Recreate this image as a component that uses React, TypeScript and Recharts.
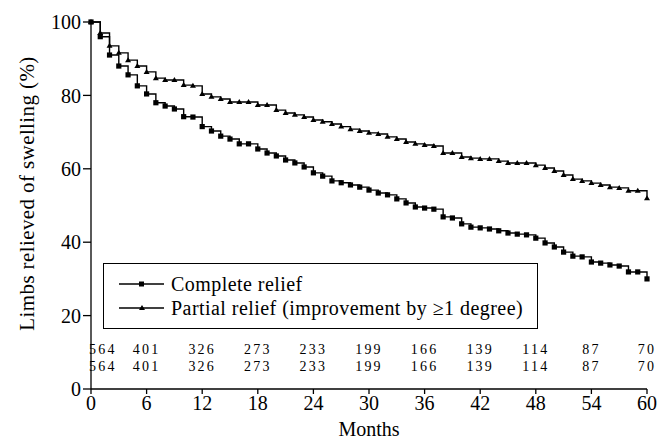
import React from 'react'
import { ComposedChart, Line, Scatter, XAxis, YAxis, Label } from 'recharts'

const months = [
  0, 1, 2, 3, 4, 5, 6, 7, 8, 9, 10, 11, 12, 13, 14, 15, 16, 17, 18, 19, 20,
  21, 22, 23, 24, 25, 26, 27, 28, 29, 30, 31, 32, 33, 34, 35, 36, 37, 38, 39, 40,
  41, 42, 43, 44, 45, 46, 47, 48, 49, 50, 51, 52, 53, 54, 55, 56, 57, 58, 59, 60,
]

const completeRelief = [
  100, 96, 91, 88, 85.6, 82.6, 80.4, 78, 77.1, 76.3, 74.2, 74.1, 71.5, 70.3, 68.9, 68.1,
  66.8, 66.8, 65.4, 64.3, 63.5, 62.4, 61.6, 60.5, 58.9, 58.0, 56.7, 56.2, 55.6, 55.0, 54.2,
  53.4, 52.9, 51.8, 50.7, 49.6, 49.3, 49.0, 46.9, 46.6, 45.0, 44.1, 43.9, 43.6, 43.1, 42.5,
  42.2, 42.0, 41.1, 39.8, 38.7, 37.3, 36.2, 36.0, 34.6, 34.3, 33.8, 33.5, 31.9, 31.9, 30.0,
]

const partialRelief = [
  100, 97, 93.5, 91.6, 89.6, 88, 86.4, 84.7, 84.2, 84.2, 82.8, 82.6, 80.4, 79.6, 79.0, 78.2,
  78.2, 78.2, 77.4, 77.4, 76.0, 75.2, 74.7, 74.1, 73.3, 72.8, 72.2, 71.5, 70.8, 70.3, 69.8,
  69.5, 68.7, 68.1, 67.3, 66.8, 66.5, 66.2, 64.3, 64.3, 63.2, 62.9, 62.7, 62.7, 62.1, 61.6,
  61.6, 61.6, 61.0, 60.2, 59.4, 58.3, 57.2, 56.7, 56.1, 55.6, 55.0, 54.8, 54.0, 54.0, 52.0,
]

const monthTicks = [0, 6, 12, 18, 24, 30, 36, 42, 48, 54, 60]
const percentTicks = [0, 20, 40, 60, 80, 100]

// numbers at risk, printed under the curves
const riskMonths = [0, 6, 12, 18, 24, 30, 36, 42, 48, 54, 60]
const riskComplete = [564, 401, 326, 273, 233, 199, 166, 139, 114, 87, 70]
const riskPartial = [564, 401, 326, 273, 233, 199, 166, 139, 114, 87, 70]
const riskRowLevels = [11.0, 6.4]

const FONT = '"Liberation Serif", "DejaVu Serif", serif'

const data = months.map((m, i) => ({
  month: m,
  complete: completeRelief[i],
  partial: partialRelief[i],
}))

const riskRows = [riskComplete, riskPartial].map((row, r) =>
  riskMonths.map((m, i) => ({ month: m, y: riskRowLevels[r], count: row[i] }))
)

function SquareDot(props: any) {
  const { cx, cy } = props
  if (cx == null || cy == null) return null
  return <rect x={cx - 2.6} y={cy - 2.6} width={5.2} height={5.2} fill="#000" />
}

function TriangleDot(props: any) {
  const { cx, cy } = props
  if (cx == null || cy == null) return null
  return <polygon points={`${cx - 3},${cy + 2} ${cx + 3},${cy + 2} ${cx},${cy - 3}`} fill="#000" />
}

function RiskText(props: any) {
  const { cx, cy, payload } = props
  return (
    <text
      x={payload.month === 0 ? cx - 2 : cx}
      y={cy}
      dy={5}
      textAnchor={payload.month === 0 ? 'start' : 'middle'}
      fontFamily={FONT}
      fontSize={14}
      letterSpacing={2.2}
      fill="#000"
    >
      {payload.count}
    </text>
  )
}

function LegendBox() {
  const items = [
    { label: 'Complete relief', marker: 'square' },
    { label: 'Partial relief (improvement by \u22651 degree)', marker: 'triangle' },
  ]
  return (
    <div
      style={{
        position: 'absolute',
        left: 103,
        top: 263,
        width: 433,
        height: 64,
        border: '1.5px solid #000',
        background: '#fff',
        fontFamily: FONT,
        fontSize: 20,
        letterSpacing: 0.45,
        boxSizing: 'content-box',
      }}
    >
      {items.map((it, i) => (
        <div key={i} style={{ position: 'absolute', left: 14, top: 8 + i * 24, height: 24, display: 'flex', alignItems: 'center' }}>
          <svg width={48} height={12} style={{ marginRight: 5 }}>
            <line x1={1} y1={6} x2={46} y2={6} stroke="#000" strokeWidth={1.3} />
            {it.marker === 'square' ? (
              <rect x={21} y={3.5} width={5} height={5} fill="#000" />
            ) : (
              <polygon points="21,8 27,8 24,3" fill="#000" />
            )}
          </svg>
          <span style={{ lineHeight: '24px', whiteSpace: 'nowrap' }}>{it.label}</span>
        </div>
      ))}
    </div>
  )
}

export default function App() {
  return (
    <div style={{ position: 'relative', width: 659, height: 442, background: '#fff' }}>
      <style>{'body{margin:0}'}</style>
      <ComposedChart width={659} height={442} data={data} margin={{ top: 22, right: 12, bottom: 0, left: 0 }}>
        <XAxis
          dataKey="month"
          type="number"
          domain={[0, 60]}
          ticks={monthTicks}
          height={53}
          stroke="#000"
          strokeWidth={1.3}
          tickSize={5}
          tick={{ fill: '#000', fontSize: 20, fontFamily: FONT }}
          allowDuplicatedCategory={false}
        >
          <Label
            content={({ viewBox }: any) => (
              <text
                x={viewBox.x + viewBox.width / 2}
                y={viewBox.y + 47}
                textAnchor="middle"
                fontFamily={FONT}
                fontSize={20}
                fill="#000"
              >
                Months
              </text>
            )}
          />
        </XAxis>
        <YAxis
          type="number"
          domain={[0, 100]}
          ticks={percentTicks}
          width={91}
          stroke="#000"
          strokeWidth={1.3}
          tickSize={8}
          tick={{ fill: '#000', fontSize: 20, fontFamily: FONT }}
        >
          <Label
            content={({ viewBox }: any) => {
              const x = 27
              const y = viewBox.y + viewBox.height / 2 - 12
              return (
                <text
                  x={x}
                  y={y}
                  transform={`rotate(-90 ${x} ${y})`}
                  textAnchor="middle"
                  dominantBaseline="central"
                  fontFamily={FONT}
                  fontSize={21}
                  letterSpacing={0.4}
                  fill="#000"
                >
                  Limbs relieved of swelling (%)
                </text>
              )
            }}
          />
        </YAxis>
        <Line
          type="stepAfter"
          dataKey="partial"
          stroke="#000"
          strokeWidth={1.4}
          dot={<TriangleDot />}
          isAnimationActive={false}
        />
        <Line
          type="stepAfter"
          dataKey="complete"
          stroke="#000"
          strokeWidth={1.4}
          dot={<SquareDot />}
          isAnimationActive={false}
        />
        {riskRows.map((row, r) => (
          <Scatter key={r} data={row} dataKey="y" shape={<RiskText />} isAnimationActive={false} />
        ))}
      </ComposedChart>
      <LegendBox />
    </div>
  )
}
